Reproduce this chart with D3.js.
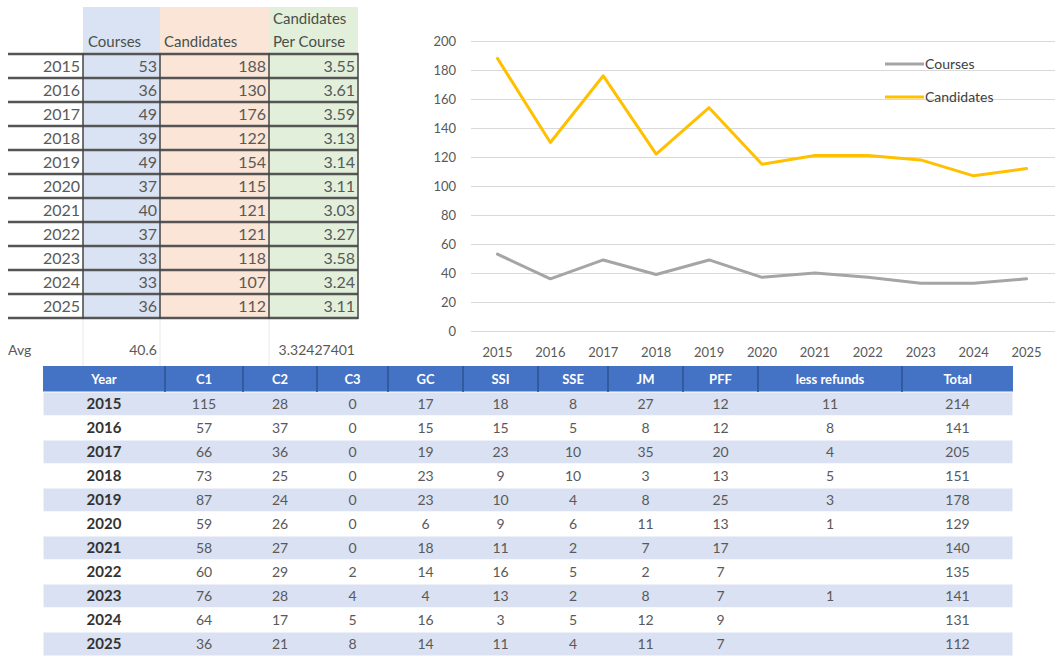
<!DOCTYPE html>
<html>
<head>
<meta charset="utf-8">
<script src="https://cdn.jsdelivr.net/npm/d3@7"></script>
<style>
  body { margin: 0; background: #fff; }
  svg { display: block; font-family: Lato, "Open Sans", sans-serif; }
</style>
</head>
<body>
<div id="sheet"></div>
<script>
var years = [2015, 2016, 2017, 2018, 2019, 2020, 2021, 2022, 2023, 2024, 2025];
var courses = [53, 36, 49, 39, 49, 37, 40, 37, 33, 33, 36];
var candidates = [188, 130, 176, 122, 154, 115, 121, 121, 118, 107, 112];
var perCourse = ['3.55', '3.61', '3.59', '3.13', '3.14', '3.11', '3.03', '3.27', '3.58', '3.24', '3.11'];
var avgCourses = '40.6';
var avgPerCourse = '3.32427401';
var yTicks = [0, 20, 40, 60, 80, 100, 120, 140, 160, 180, 200];

var headers = ['Year', 'C1', 'C2', 'C3', 'GC', 'SSI', 'SSE', 'JM', 'PFF', 'less refunds', 'Total'];
var c1 = [115, 57, 66, 73, 87, 59, 58, 60, 76, 64, 36];
var c2 = [28, 37, 36, 25, 24, 26, 27, 29, 28, 17, 21];
var c3 = [0, 0, 0, 0, 0, 0, 0, 2, 4, 5, 8];
var gc = [17, 15, 19, 23, 23, 6, 18, 14, 4, 16, 14];
var ssi = [18, 15, 23, 9, 10, 9, 11, 16, 13, 3, 11];
var sse = [8, 5, 10, 10, 4, 6, 2, 5, 2, 5, 4];
var jm = [27, 8, 35, 3, 8, 11, 7, 2, 8, 12, 11];
var pff = [12, 12, 20, 13, 25, 13, 17, 7, 7, 9, 7];
var refunds = [11, 8, 4, 5, 3, 1, '', '', 1, '', ''];
var totals = [214, 141, 205, 151, 178, 129, 140, 135, 141, 131, 112];

var W = 1057, H = 656,
    textGray = '#595959';

var svg = d3.select('#sheet').append('svg')
    .attr('width', W)
    .attr('height', H);

// ---- top-left table ----
var colEdges = [8, 83, 160, 269, 358],
    colFills = ['#dae3f3', '#fbe5d6', '#e2efda'];

var rowY = d3.scaleBand()
    .domain(years)
    .range([54, 318]);

var summary = svg.append('g');

colFills.forEach(function(c, i) {
    summary.append('rect')
        .attr('x', colEdges[i + 1])
        .attr('y', 7)
        .attr('width', colEdges[i + 2] - colEdges[i + 1])
        .attr('height', 318 - 7)
        .attr('fill', c);
});

// faint sheet gridlines below the table
[83, 160, 269].forEach(function(x) {
    summary.append('line')
        .attr('x1', x).attr('x2', x)
        .attr('y1', 318).attr('y2', 366)
        .attr('stroke', '#e8e8e8');
});

var headTxt = [
    { x: colEdges[1] + 5, y: 47, t: 'Courses' },
    { x: colEdges[2] + 4, y: 47, t: 'Candidates' },
    { x: colEdges[3] + 4, y: 24, t: 'Candidates' },
    { x: colEdges[3] + 4, y: 47, t: 'Per Course' }
];
summary.selectAll('text.head').data(headTxt)
    .enter().append('text')
    .attr('class', 'head')
    .attr('x', function(d) { return d.x; })
    .attr('y', function(d) { return d.y; })
    .attr('font-size', 15)
    .attr('fill', '#4a5048')
    .text(function(d) { return d.t; });

var cols = [years, courses, candidates, perCourse];
cols.forEach(function(arr, ci) {
    summary.selectAll('text.c' + ci).data(arr)
        .enter().append('text')
        .attr('class', 'c' + ci)
        .attr('x', colEdges[ci + 1] - 3)
        .attr('y', function(d, i) { return rowY(years[i]) + rowY.bandwidth() / 2; })
        .attr('dy', '0.35em')
        .attr('text-anchor', 'end')
        .attr('font-size', 16)
        .attr('fill', textGray)
        .text(function(d) { return d; });
});

summary.selectAll('line.hrow').data(d3.range(years.length + 1))
    .enter().append('line')
    .attr('class', 'hrow')
    .attr('x1', colEdges[0])
    .attr('x2', colEdges[4])
    .attr('y1', function(i) { return 54 + i * rowY.step(); })
    .attr('y2', function(i) { return 54 + i * rowY.step(); })
    .attr('stroke', '#555')
    .attr('stroke-width', 2.5);

colEdges.slice(1).forEach(function(x) {
    summary.append('line')
        .attr('x1', x).attr('x2', x)
        .attr('y1', 53).attr('y2', 319)
        .attr('stroke', '#444')
        .attr('stroke-width', 1.5);
});

summary.append('text').attr('x', 8).attr('y', 355)
    .attr('font-size', 14).attr('fill', textGray).text('Avg');
summary.append('text').attr('x', 143).attr('y', 355).attr('text-anchor', 'middle')
    .attr('font-size', 14).attr('fill', textGray).text(avgCourses);
summary.append('text').attr('x', 355).attr('y', 355).attr('text-anchor', 'end')
    .attr('font-size', 14).attr('fill', textGray).text(avgPerCourse);

// ---- line chart ----
var xScale = d3.scaleBand()
    .domain(years)
    .range([471, 1053]);

var yScale = d3.scaleLinear()
    .domain([0, 200])
    .range([331, 41]);

var yGuide = svg.append('g')
    .attr('transform', 'translate(471,0)')
    .call(d3.axisLeft(yScale).tickValues(yTicks).tickSize(-584).tickPadding(15));
yGuide.select('.domain').remove();
yGuide.selectAll('line').attr('stroke', '#d9d9d9');
yGuide.selectAll('text').attr('fill', textGray).attr('font-size', 13)
    .attr('font-family', 'Lato, sans-serif');

var xGuide = svg.append('g')
    .attr('transform', 'translate(0,331)')
    .call(d3.axisBottom(xScale).tickSize(0).tickPadding(17));
xGuide.select('.domain').remove();
xGuide.selectAll('text').attr('fill', textGray).attr('font-size', 13)
    .attr('font-family', 'Lato, sans-serif');

var line = d3.line()
    .x(function(d, i) { return xScale(years[i]) + xScale.bandwidth() / 2; })
    .y(function(d) { return yScale(d); });

var series = [
    { name: 'Courses', values: courses, color: '#a5a5a5' },
    { name: 'Candidates', values: candidates, color: '#ffc000' }
];

svg.selectAll('path.series').data(series)
    .enter().append('path')
    .attr('class', 'series')
    .attr('d', function(d) { return line(d.values); })
    .attr('fill', 'none')
    .attr('stroke', function(d) { return d.color; })
    .attr('stroke-width', 3)
    .attr('stroke-linejoin', 'round')
    .attr('stroke-linecap', 'round');

var legend = svg.selectAll('g.legend').data(series)
    .enter().append('g')
    .attr('class', 'legend')
    .attr('transform', function(d, i) { return 'translate(885,' + (64 + i * 33) + ')'; });
legend.append('line')
    .attr('x1', 0).attr('x2', 39)
    .attr('stroke', function(d) { return d.color; })
    .attr('stroke-width', 3);
legend.append('text')
    .attr('x', 40)
    .attr('dy', '0.35em')
    .attr('font-size', 14)
    .attr('fill', '#404040')
    .text(function(d) { return d.name; });

// ---- breakdown table ----
var bEdges = [43, 165, 243, 317, 388, 463, 538, 608, 683, 758, 902, 1013],
    bCols = [years, c1, c2, c3, gc, ssi, sse, jm, pff, refunds, totals];

var bRow = d3.scaleBand()
    .domain(years)
    .range([392, 656]);

var bt = svg.append('g');

bt.append('rect')
    .attr('x', bEdges[0]).attr('y', 366)
    .attr('width', bEdges[11] - bEdges[0]).attr('height', 26)
    .attr('fill', '#4472c4');

bt.selectAll('rect.row').data(years)
    .enter().append('rect')
    .attr('class', 'row')
    .attr('x', bEdges[0])
    .attr('y', function(d) { return bRow(d); })
    .attr('width', bEdges[11] - bEdges[0])
    .attr('height', bRow.bandwidth())
    .attr('fill', function(d, i) { return i % 2 === 0 ? '#d9e1f2' : '#ffffff'; })
    .attr('stroke', '#fff')
    .attr('stroke-width', 1);

bEdges.slice(1, 11).forEach(function(x) {
    bt.append('line')
        .attr('x1', x).attr('x2', x)
        .attr('y1', 366).attr('y2', 392)
        .attr('stroke', '#2f528f')
        .attr('stroke-width', 1.5);
});

bt.selectAll('text.hd').data(headers)
    .enter().append('text')
    .attr('class', 'hd')
    .attr('x', function(d, i) { return (bEdges[i] + bEdges[i + 1]) / 2; })
    .attr('y', 379)
    .attr('dy', '0.35em')
    .attr('text-anchor', 'middle')
    .attr('font-size', 13)
    .attr('font-weight', 'bold')
    .attr('fill', '#fff')
    .text(function(d) { return d; });

bCols.forEach(function(arr, ci) {
    bt.selectAll('text.b' + ci).data(arr)
        .enter().append('text')
        .attr('class', 'b' + ci)
        .attr('x', (bEdges[ci] + bEdges[ci + 1]) / 2)
        .attr('y', function(d, i) { return bRow(years[i]) + bRow.bandwidth() / 2; })
        .attr('dy', '0.35em')
        .attr('text-anchor', 'middle')
        .attr('font-size', ci === 0 ? 15 : 14)
        .attr('font-weight', ci === 0 ? 'bold' : 'normal')
        .attr('fill', ci === 0 ? '#333' : textGray)
        .text(function(d) { return d; });
});
</script>
</body>
</html>
